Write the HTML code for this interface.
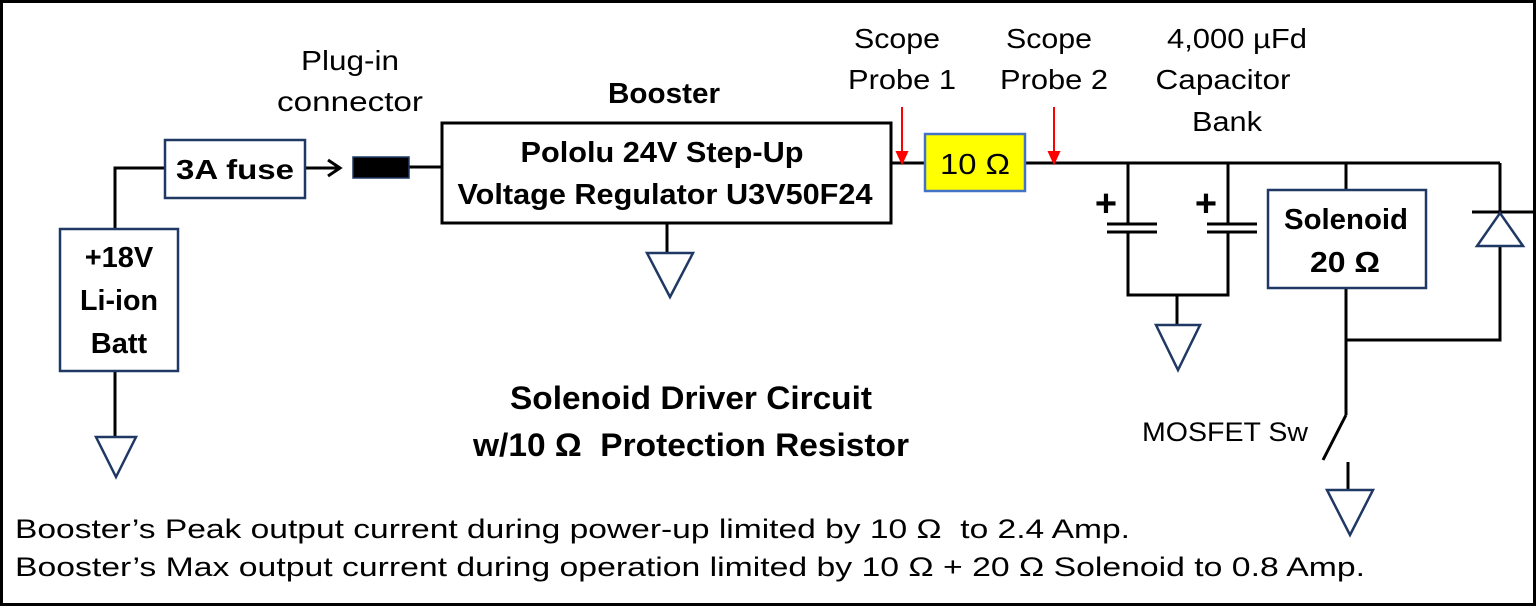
<!DOCTYPE html>
<html><head><meta charset="utf-8"><style>
html,body{margin:0;padding:0;background:#fff;}
svg{display:block;}
text{font-family:"Liberation Sans",sans-serif;fill:#000;}
.b{font-weight:bold;}
</style></head><body>
<svg width="1537" height="610" viewBox="0 0 1537 610" xmlns="http://www.w3.org/2000/svg">
<rect x="1.5" y="1.5" width="1533" height="603" fill="#fff" stroke="#000" stroke-width="3"/>
<g stroke="#000" stroke-width="3" fill="none">
<polyline points="115,229 115,168 165,168"/>
<line x1="115" y1="371" x2="115" y2="437"/>
<line x1="305" y1="168" x2="338" y2="168"/>
<polyline points="328,160 340,168 328,176"/>
<line x1="409" y1="167" x2="442" y2="167"/>
<line x1="667" y1="223" x2="667" y2="252"/>
<line x1="891" y1="163" x2="925" y2="163"/>
<line x1="1025" y1="163" x2="1500" y2="163"/>
<line x1="1128" y1="163" x2="1128" y2="224"/>
<line x1="1107" y1="224" x2="1157" y2="224"/>
<line x1="1107" y1="232" x2="1157" y2="232"/>
<polyline points="1128,232 1128,295 1228,295 1228,232"/>
<line x1="1228" y1="163" x2="1228" y2="224"/>
<line x1="1207" y1="224" x2="1257" y2="224"/>
<line x1="1207" y1="232" x2="1257" y2="232"/>
<line x1="1177" y1="295" x2="1177" y2="325"/>
<line x1="1346" y1="163" x2="1346" y2="190"/>
<line x1="1346" y1="288" x2="1346" y2="415"/>
<polyline points="1346,340 1500,340 1500,246"/>
<line x1="1500" y1="163" x2="1500" y2="212"/>
<line x1="1472" y1="212" x2="1533" y2="212"/>
<line x1="1346" y1="415" x2="1323" y2="460"/>
<line x1="1348" y1="462" x2="1348" y2="490"/>
</g>
<g stroke="#1f3864" stroke-width="2.5" fill="#fff">
<polygon points="96,437 136,437 116,477"/>
<polygon points="647,253 693,253 670,297"/>
<polygon points="1156,325 1200,325 1178,370"/>
<polygon points="1327,490 1373,490 1350,535"/>
<polygon points="1477,246 1523,246 1500,213"/>
</g>
<rect x="165" y="140" width="140" height="58" fill="#fff" stroke="#1f3864" stroke-width="2.5"/>
<rect x="60" y="229" width="118" height="142" fill="#fff" stroke="#1f3864" stroke-width="2.5"/>
<rect x="353" y="157" width="56" height="21" fill="#000" stroke="#1f3864" stroke-width="1.5"/>
<rect x="442" y="123" width="449" height="100" fill="#fff" stroke="#000" stroke-width="3"/>
<rect x="925" y="134" width="100" height="57" fill="#ffff00" stroke="#4472c4" stroke-width="2.5"/>
<rect x="1268" y="190" width="158" height="98" fill="#fff" stroke="#1f3864" stroke-width="2.5"/>
<g stroke="#f00" stroke-width="2" fill="#f00">
<line x1="902" y1="107" x2="902" y2="155"/>
<polygon points="897,152 907,152 902,163"/>
<line x1="1054" y1="107" x2="1054" y2="155"/>
<polygon points="1049,152 1059,152 1054,163"/>
</g>
<text class="b" x="235" y="179" font-size="28" text-anchor="middle" textLength="118" lengthAdjust="spacingAndGlyphs">3A fuse</text>
<text class="b" x="119" y="267" font-size="29" text-anchor="middle">+18V</text>
<text class="b" x="119" y="310" font-size="29" text-anchor="middle" textLength="78" lengthAdjust="spacingAndGlyphs">Li-ion</text>
<text class="b" x="119" y="353" font-size="29" text-anchor="middle">Batt</text>
<text x="350" y="70" font-size="28" text-anchor="middle" textLength="98" lengthAdjust="spacingAndGlyphs">Plug-in</text>
<text x="350" y="111" font-size="28" text-anchor="middle" textLength="146" lengthAdjust="spacingAndGlyphs">connector</text>
<text class="b" x="664" y="103" font-size="29" text-anchor="middle" textLength="112" lengthAdjust="spacingAndGlyphs">Booster</text>
<text class="b" x="662" y="162" font-size="29" text-anchor="middle" textLength="283" lengthAdjust="spacingAndGlyphs">Pololu 24V Step-Up</text>
<text class="b" x="665" y="204" font-size="29" text-anchor="middle" textLength="415" lengthAdjust="spacingAndGlyphs">Voltage Regulator U3V50F24</text>
<text x="975" y="174" font-size="29" text-anchor="middle" textLength="70" lengthAdjust="spacingAndGlyphs">10 Ω</text>
<text x="897" y="48" font-size="28" text-anchor="middle" textLength="86" lengthAdjust="spacingAndGlyphs">Scope</text>
<text x="902" y="89" font-size="28" text-anchor="middle" textLength="108" lengthAdjust="spacingAndGlyphs">Probe 1</text>
<text x="1049" y="48" font-size="28" text-anchor="middle" textLength="86" lengthAdjust="spacingAndGlyphs">Scope</text>
<text x="1054" y="89" font-size="28" text-anchor="middle" textLength="108" lengthAdjust="spacingAndGlyphs">Probe 2</text>
<text x="1237" y="48" font-size="28" text-anchor="middle" textLength="140" lengthAdjust="spacingAndGlyphs">4,000 µFd</text>
<text x="1223" y="89" font-size="28" text-anchor="middle" textLength="135" lengthAdjust="spacingAndGlyphs">Capacitor</text>
<text x="1227" y="131" font-size="28" text-anchor="middle" textLength="70" lengthAdjust="spacingAndGlyphs">Bank</text>
<text class="b" x="1106" y="216" font-size="38" text-anchor="middle">+</text>
<text class="b" x="1206" y="216" font-size="38" text-anchor="middle">+</text>
<text class="b" x="1346" y="229" font-size="29" text-anchor="middle" textLength="124" lengthAdjust="spacingAndGlyphs">Solenoid</text>
<text class="b" x="1345" y="272" font-size="29" text-anchor="middle" textLength="70" lengthAdjust="spacingAndGlyphs">20 Ω</text>
<text x="1142" y="441" font-size="27" textLength="166" lengthAdjust="spacingAndGlyphs">MOSFET Sw</text>
<text class="b" x="691" y="409" font-size="32" text-anchor="middle" textLength="362" lengthAdjust="spacingAndGlyphs">Solenoid Driver Circuit</text>
<text class="b" x="691" y="456" font-size="32" text-anchor="middle" textLength="436" lengthAdjust="spacingAndGlyphs">w/10 Ω&#160; Protection Resistor</text>
<text x="15" y="538" font-size="27" textLength="1115" lengthAdjust="spacingAndGlyphs">Booster’s Peak output current during power-up limited by 10 Ω&#160; to 2.4 Amp.</text>
<text x="15" y="576" font-size="27" textLength="1350" lengthAdjust="spacingAndGlyphs">Booster’s Max output current during operation limited by 10 Ω + 20 Ω Solenoid to 0.8 Amp.</text>
</svg>
</body></html>
